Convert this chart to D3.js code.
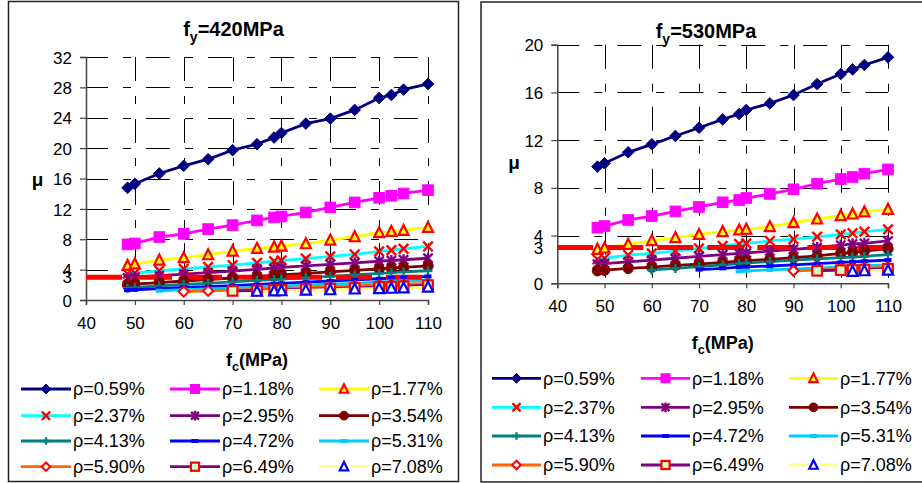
<!DOCTYPE html>
<html><head><meta charset="utf-8">
<script src="https://cdn.jsdelivr.net/npm/d3@7"></script>
<style>body{margin:0;background:#fff}svg{display:block}</style>
</head><body>
<svg id="c" width="922" height="483"></svg>
<script>
// ---------------- DATA ----------------
const fcValues = [48.5, 50, 55, 60, 65, 70, 75, 78.5, 80, 85, 90, 95, 100, 102.5, 105, 110];
const rhoLabels = ["ρ=0.59%","ρ=1.18%","ρ=1.77%","ρ=2.37%","ρ=2.95%","ρ=3.54%","ρ=4.13%","ρ=4.72%","ρ=5.31%","ρ=5.90%","ρ=6.49%","ρ=7.08%"];
const xTicks = [40, 50, 60, 70, 80, 90, 100, 110];
const yTicks420 = [0, 4, 8, 12, 16, 20, 24, 28, 32];
const yTicks530 = [0, 4, 8, 12, 16, 20];
const limitMu = 3;
const titles = ["420", "530"];

// fy = 420 MPa
const mu420_r059 = [14.77,15.3,16.66,17.67,18.54,19.73,20.52,21.39,22.0,23.23,23.89,25.03,26.6,27.0,27.7,28.45];
const mu420_r118 = [7.32,7.45,8.29,8.72,9.34,9.86,10.48,10.87,11.0,11.53,12.19,12.85,13.46,13.72,14.03,14.47];
const mu420_r177 = [4.55,4.75,5.26,5.57,5.96,6.44,6.8,6.97,7.1,7.41,7.89,8.33,8.86,9.03,9.16,9.56];
const mu420_r237 = [3.45,3.55,3.85,4.1,4.35,4.6,4.9,5.1,5.2,5.45,5.75,6.0,6.4,6.55,6.75,7.05];
const mu420_r295 = [2.9,3.0,3.2,3.4,3.6,3.8,4.05,4.2,4.3,4.5,4.7,4.9,5.1,5.2,5.3,5.5];
const mu420_r354 = [2.0,2.1,2.3,2.5,2.7,2.9,3.1,3.25,3.3,3.5,3.7,3.9,4.1,4.2,4.3,4.5];
const mu420_r413 = [1.55,1.65,1.85,2.05,2.2,2.4,2.6,2.7,2.75,2.95,3.1,3.3,3.5,3.6,3.7,3.85];
const mu420_r472 = [1.3,1.35,1.5,1.65,1.75,1.9,2.05,2.15,2.2,2.35,2.5,2.65,2.8,2.9,2.95,3.1];
const mu420_r531 = [null,null,1.22,1.35,1.45,1.55,1.7,1.8,1.85,1.95,2.1,2.2,2.35,2.45,2.5,2.6];
const mu420_r590 = [null,null,null,1.1,1.2,1.3,1.4,1.48,1.52,1.62,1.72,1.85,1.98,2.05,2.1,2.2];
const mu420_r649 = [null,null,null,null,null,1.2,1.25,1.3,1.32,1.42,1.5,1.6,1.7,1.75,1.8,1.95];
const mu420_r708 = [null,null,null,null,null,null,1.15,1.2,1.22,1.3,1.35,1.45,1.5,1.55,1.6,1.7];

// fy = 530 MPa
const mu530_r059 = [9.78,10.06,10.98,11.65,12.35,13.04,13.74,14.19,14.53,15.08,15.78,16.7,17.54,17.93,18.3,18.94];
const mu530_r118 = [4.66,4.8,5.31,5.64,6.03,6.4,6.79,6.98,7.15,7.49,7.88,8.35,8.74,8.91,9.19,9.55];
const mu530_r177 = [2.85,2.96,3.27,3.58,3.83,4.1,4.33,4.47,4.53,4.75,5.08,5.39,5.67,5.81,5.98,6.2];
const mu530_r237 = [2.0,2.1,2.37,2.5,2.7,2.93,3.13,3.3,3.35,3.55,3.7,3.9,4.1,4.2,4.33,4.52];
const mu530_r295 = [1.6,1.65,1.8,1.95,2.1,2.25,2.4,2.5,2.55,2.7,2.85,3.0,3.2,3.3,3.35,3.55];
const mu530_r354 = [1.05,1.1,1.25,1.35,1.5,1.6,1.75,1.85,1.9,2.0,2.15,2.3,2.5,2.6,2.7,2.9];
const mu530_r413 = [null,null,null,1.12,1.25,1.4,1.55,1.65,1.7,1.82,1.95,2.05,2.15,2.2,2.25,2.4];
const mu530_r472 = [null,null,null,null,null,1.15,1.25,1.35,1.38,1.45,1.55,1.65,1.75,1.8,1.85,1.95];
const mu530_r531 = [null,null,null,null,null,null,null,1.0,1.05,1.12,1.2,1.28,1.38,1.42,1.47,1.55];
const mu530_r590 = [null,null,null,null,null,null,null,null,null,null,1.05,1.1,1.18,1.22,1.26,1.35];
const mu530_r649 = [null,null,null,null,null,null,null,null,null,null,null,1.05,1.1,1.12,1.15,1.22];
const mu530_r708 = [null,null,null,null,null,null,null,null,null,null,null,null,null,1.0,1.05,1.1];

const series420 = [mu420_r059,mu420_r118,mu420_r177,mu420_r237,mu420_r295,mu420_r354,mu420_r413,mu420_r472,mu420_r531,mu420_r590,mu420_r649,mu420_r708];
const series530 = [mu530_r059,mu530_r118,mu530_r177,mu530_r237,mu530_r295,mu530_r354,mu530_r413,mu530_r472,mu530_r531,mu530_r590,mu530_r649,mu530_r708];

// ---------------- STYLES ----------------
const styles = [
  {line:"#000080", m:"diamond", fill:"#000080", stroke:"#000080"},
  {line:"#FF00FF", m:"square", fill:"#FF00FF", stroke:"#FF00FF"},
  {line:"#FFFF00", m:"triangle", fill:"#FFFF00", stroke:"#FF0000"},
  {line:"#00FFFF", m:"x", fill:"none", stroke:"#FF0000"},
  {line:"#800080", m:"star", fill:"none", stroke:"#800080"},
  {line:"#800000", m:"circle", fill:"#800000", stroke:"#800000"},
  {line:"#008080", m:"plus", fill:"none", stroke:"#008080"},
  {line:"#0000FF", m:"dash", fill:"#0000FF", stroke:"#0000FF"},
  {line:"#00CCFF", m:"dash", fill:"#00CCFF", stroke:"#00CCFF"},
  {line:"#FF6600", m:"diamond", fill:"#FFFFFF", stroke:"#FF0000", hollow:true},
  {line:"#800080", m:"square", fill:"#CCFFCC", stroke:"#FF0000", hollow:true},
  {line:"#FFFF99", m:"triangle", fill:"#FFFFFF", stroke:"#0000FF", hollow:true}
];
const FONT = "Arial, 'Liberation Sans', sans-serif";

const svg = d3.select("#c");

function marker(g, st, x, y, k) {
  k = k || 1;
  const m = st.m;
  if (m === "diamond") {
    const r = (st.hollow ? 5 : 5.8) * k;
    g.append("path").attr("d", `M${x},${y-r}L${x+r},${y}L${x},${y+r}L${x-r},${y}Z`)
      .attr("fill", st.fill).attr("stroke", st.stroke).attr("stroke-width", st.hollow ? 2 : 1);
  } else if (m === "square") {
    const r = (st.hollow ? 4.8 : 5.3) * k;
    g.append("rect").attr("x", x-r).attr("y", y-r).attr("width", 2*r).attr("height", 2*r)
      .attr("fill", st.fill).attr("stroke", st.stroke).attr("stroke-width", st.hollow ? 2.2 : 1);
  } else if (m === "triangle") {
    const h = 5 * k;
    g.append("path").attr("d", `M${x},${y-h-0.5}L${x+h},${y+h-0.5}L${x-h},${y+h-0.5}Z`)
      .attr("fill", st.fill).attr("stroke", st.stroke).attr("stroke-width", 2.2).attr("stroke-linejoin","miter");
  } else if (m === "x") {
    const r = 4.8 * k;
    g.append("path").attr("d", `M${x-r},${y-r}L${x+r},${y+r}M${x-r},${y+r}L${x+r},${y-r}`)
      .attr("stroke", st.stroke).attr("stroke-width", 2.4).attr("fill","none");
  } else if (m === "star") {
    const r = 4.6 * k;
    g.append("path").attr("d", `M${x-r},${y-r}L${x+r},${y+r}M${x-r},${y+r}L${x+r},${y-r}M${x},${y-r-1}L${x},${y+r+1}`)
      .attr("stroke", st.stroke).attr("stroke-width", 2.4).attr("fill","none");
  } else if (m === "circle") {
    g.append("circle").attr("cx", x).attr("cy", y).attr("r", 5.2 * k).attr("fill", st.fill).attr("stroke", st.stroke);
  } else if (m === "plus") {
    const r = 4.5 * k;
    g.append("path").attr("d", `M${x-r},${y}L${x+r},${y}M${x},${y-r}L${x},${y+r}`)
      .attr("stroke", st.stroke).attr("stroke-width", 2.4).attr("fill","none");
  } else if (m === "dash") {
    g.append("rect").attr("x", x-3.5).attr("y", y-2).attr("width", 7).attr("height", 4).attr("fill", st.fill);
  }
}

function subText(g, x, y, main, sub, rest, size, anchor, bold) {
  const t = g.append("text").attr("x", x).attr("y", y).attr("text-anchor", anchor)
    .attr("font-family", FONT).attr("font-size", size).attr("font-weight", bold ? "bold" : "normal");
  t.append("tspan").text(main);
  t.append("tspan").attr("dy", size*0.3).attr("font-size", size*0.7).text(sub);
  t.append("tspan").attr("dy", -size*0.3).text(rest);
  return t;
}

const panels = [
  {box:[8.5,1.5,450,480], x0:86, x1:428, yTop:57, yBot:300, yMax:32, yTicks:yTicks420, data:series420, title:titles[0],
   titleX:233.5, titleY:36, muX:37.5, muY:186, xTickY:333, xLabY:366, rows:[389,415.7,441,466.7], cols:[21,170,319], lineLen:50},
  {box:[481,2,460,480], x0:557.3, x1:888, yTop:44.7, yBot:283.3, yMax:20, yTicks:yTicks530, data:series530, title:titles[1],
   titleX:706, titleY:38, muX:514, muY:169, xTickY:317, xLabY:349, rows:[378.3,407.3,436,465], cols:[492,641,789], lineLen:49}
];

panels.forEach(p => {
  const g = svg.append("g");
  g.append("rect").attr("x", p.box[0]).attr("y", p.box[1]).attr("width", p.box[2]).attr("height", p.box[3])
    .attr("fill", "#fff").attr("stroke", "#222").attr("stroke-width", 1.5);

  const x = d3.scaleLinear().domain([40, 110]).range([p.x0, p.x1]);
  const y = d3.scaleLinear().domain([0, p.yMax]).range([p.yBot, p.yTop]);

  // gridlines
  const grid = g.append("g").attr("stroke", "#000").attr("stroke-width", 1).attr("stroke-dasharray", "24,15,8,15");
  p.yTicks.filter(v => v > 0).forEach(v => {
    grid.append("line").attr("x1", p.x0).attr("x2", p.x1).attr("y1", Math.round(y(v))+0.5).attr("y2", Math.round(y(v))+0.5)
      .attr("stroke-dashoffset", 2);
  });
  xTicks.filter(v => v > 40).forEach(v => {
    grid.append("line").attr("x1", Math.round(x(v))+0.5).attr("x2", Math.round(x(v))+0.5).attr("y1", p.yTop).attr("y2", p.yBot);
  });

  // axes
  const yAxis = d3.axisLeft(y).tickValues(p.yTicks).tickSize(6).tickPadding(8).tickFormat(d3.format("d"));
  const xAxis = d3.axisBottom(x).tickValues(xTicks).tickSize(5).tickPadding(12).tickFormat(d3.format("d"));
  const ya = g.append("g").attr("transform", `translate(${p.x0},0)`).call(yAxis);
  const xa = g.append("g").attr("transform", `translate(0,${p.yBot})`).call(xAxis);
  [ya, xa].forEach(a => {
    a.select(".domain").attr("stroke", "#444").attr("stroke-width", 1.5);
    a.selectAll(".tick line").attr("stroke", "#444").attr("stroke-width", 1.2);
    a.selectAll("text").attr("font-family", FONT).attr("font-size", 17).attr("fill", "#000");
  });
  ya.selectAll("text").attr("dy", "0.36em");
  xa.selectAll("text").attr("dy", "0.71em");
  // extra label at mu = 3
  g.append("text").attr("x", p.x0 - 14).attr("y", y(limitMu)).attr("dy", "0.36em").attr("text-anchor", "end")
    .attr("font-family", FONT).attr("font-size", 17).text(limitMu);

  // series lines
  const line = d3.line().defined(d => d[1] != null).x(d => x(d[0])).y(d => y(d[1]));
  const allPts = p.data.map(vals => fcValues.map((f, k) => [f, vals[k]]));
  allPts.forEach((pts, i) => {
    g.append("path").attr("d", line(pts)).attr("fill", "none").attr("stroke", styles[i].line).attr("stroke-width", 2.8);
  });

  // limit line mu = 3
  g.append("line").attr("x1", x(40)).attr("x2", x(110)).attr("y1", y(limitMu)).attr("y2", y(limitMu))
    .attr("stroke", "#FF0000").attr("stroke-width", 5).attr("stroke-dasharray", "36,14");

  // markers
  allPts.forEach((pts, i) => {
    const sg = g.append("g");
    pts.filter(d => d[1] != null).forEach(d => marker(sg, styles[i], x(d[0]), y(d[1])));
  });

  // titles
  subText(g, p.titleX, p.titleY, "f", "y", "=" + p.title + "MPa", 20, "middle", true);
  g.append("text").attr("x", p.muX).attr("y", p.muY).attr("text-anchor", "middle")
    .attr("font-family", FONT).attr("font-size", 19).attr("font-weight", "bold").text("μ");
  subText(g, (p.x0 + p.x1) / 2, p.xLabY, "f", "c", "(MPa)", 18, "middle", true);

  // legend
  rhoLabels.forEach((lab, i) => {
    const r = Math.floor(i / 3), c = i % 3;
    const lx = p.cols[c], ly = p.rows[r];
    const st = styles[i];
    g.append("line").attr("x1", lx).attr("x2", lx + p.lineLen).attr("y1", ly).attr("y2", ly)
      .attr("stroke", st.line).attr("stroke-width", 2.8);
    marker(g, st, lx + p.lineLen / 2, ly, 0.85);
    g.append("text").attr("x", lx + p.lineLen + 2).attr("y", ly).attr("dy", "0.36em")
      .attr("font-family", FONT).attr("font-size", 18).text(lab);
  });
});
</script>
</body></html>
